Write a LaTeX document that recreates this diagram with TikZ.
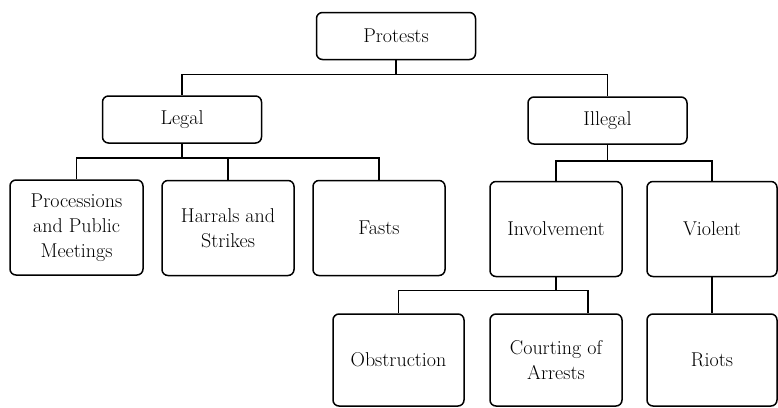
\documentclass[tikz,border=0pt]{standalone}
\usepackage{tikz}
\usetikzlibrary{positioning}

\begin{document}
\begin{tikzpicture}[x=1pt,y=1pt,on grid,
    box/.style={draw,rounded corners=6pt,line width=1.5pt,align=center,
      inner sep=2pt,font=\fontsize{20}{25}\selectfont},
    head/.style={box,minimum width=159pt,minimum height=47pt},
    leaf/.style={box,minimum width=132pt,minimum height=95pt},
    low/.style={box,minimum width=131pt,minimum height=92pt},
    link/.style={line width=1.5pt}]
  \useasboundingbox (0,0) rectangle (778,-407);

  \node[head] (protests) at (396,-36) {Protests};
  \node[head] (legal) [below left=83.5pt and 214pt of protests] {Legal};
  \node[head] (illegal) [below right=84.5pt and 211.5pt of protests] {Illegal};

  \node[leaf,minimum width=133pt] (processions) [below left=108pt and 105.5pt of legal] {Processions\\and Public\\Meetings};
  \node[leaf] (harrals) [below right=108.5pt and 46pt of legal] {Harrals and\\Strikes};
  \node[leaf] (fasts) [below right=108.5pt and 197pt of legal] {Fasts};
  \node[leaf] (involvement) [below left=108.5pt and 51.5pt of illegal] {Involvement};
  \node[leaf,minimum width=130pt] (violent) [below right=108.5pt and 104.5pt of illegal] {Violent};

  \node[low] (obstruction) [below left=131pt and 157.5pt of involvement] {Obstruction};
  \node[low,minimum width=132pt] (courting) [below=131pt of involvement] {Courting of\\Arrests};
  \node[low,minimum width=130pt] (riots) [below=131pt of violent] {Riots};

  % top level
  \draw[link] (protests.south) -- ++(0,-14pt) coordinate (topbar);
  \draw[link] (topbar) -| (legal.north);
  \draw[link] (topbar) -| (illegal.north);

  % legal branch
  \draw[link] (legal.south) -- ++(0,-14pt) coordinate (legalbar);
  \foreach \kind in {processions,harrals,fasts}
    \draw[link] (legalbar) -| (\kind.north);

  % illegal branch
  \draw[link] (illegal.south) -- ++(0,-16pt) coordinate (illegalbar);
  \draw[link] (illegalbar) -| (involvement.north);
  \draw[link] (illegalbar) -| (violent.north);

  \draw[link] (involvement.south) -- ++(0,-13pt) coordinate (involvebar);
  \draw[link] (involvebar) -| (obstruction.north);
  \draw[link] (involvebar) -| ([xshift=32pt]courting.north);

  \draw[link] (violent) -- (riots);
\end{tikzpicture}
\end{document}
